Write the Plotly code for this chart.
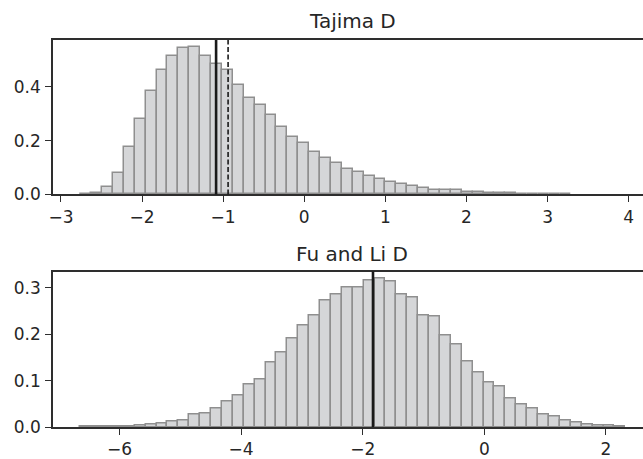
import plotly.graph_objects as go
from plotly.subplots import make_subplots

# ---- data ----
titles = ["Tajima D", "Fu and Li D"]

tajima_bin_start = -2.762
tajima_bin_width = 0.1344
tajima_density = [0.002, 0.005, 0.029, 0.081, 0.176, 0.280, 0.383, 0.464, 0.516, 0.544,
                  0.547, 0.515, 0.486, 0.461, 0.405, 0.357, 0.334, 0.295, 0.249, 0.213,
                  0.192, 0.158, 0.135, 0.116, 0.096, 0.084, 0.068, 0.058, 0.048, 0.038,
                  0.030, 0.023, 0.018, 0.016, 0.015, 0.011, 0.009, 0.007, 0.005, 0.004,
                  0.003, 0.002, 0.0015, 0.001, 0.0005]
tajima_solid = -1.087
tajima_dashed = -0.939

fuli_bin_start = -6.646
fuli_bin_width = 0.1793
fuli_density = [0.0005, 0.001, 0.001, 0.0015, 0.002, 0.003, 0.005, 0.007, 0.0115, 0.015,
                0.026, 0.030, 0.040, 0.055, 0.067, 0.091, 0.102, 0.139, 0.160, 0.190,
                0.220, 0.240, 0.274, 0.286, 0.300, 0.301, 0.317, 0.320, 0.313, 0.285,
                0.279, 0.241, 0.2375, 0.198, 0.1775, 0.142, 0.118, 0.0966, 0.087, 0.062,
                0.0487, 0.039, 0.0272, 0.0223, 0.0144, 0.009, 0.0064, 0.004, 0.0025, 0.0015]
fuli_solid = -1.831

tajima_xticks = [-3, -2, -1, 0, 1, 2, 3, 4]
tajima_yticks = [0.0, 0.2, 0.4]
fuli_xticks = [-6, -4, -2, 0, 2]
fuli_yticks = [0.0, 0.1, 0.2, 0.3]

# ---- styling ----
FILL = "#d5d6d8"
EDGE = "#8f8f8f"
AX = "#2e2e2e"
TXT = "#262626"
FONT = "DejaVu Sans"

fig = make_subplots(rows=2, cols=1)

def centers(start, width, n):
    return [start + (i + 0.5) * width for i in range(n)]

fig.add_trace(go.Bar(x=centers(tajima_bin_start, tajima_bin_width, len(tajima_density)),
                     y=tajima_density, width=tajima_bin_width,
                     marker=dict(color=FILL, line=dict(color=EDGE, width=1.5)),
                     showlegend=False), row=1, col=1)
fig.add_trace(go.Bar(x=centers(fuli_bin_start, fuli_bin_width, len(fuli_density)),
                     y=fuli_density, width=fuli_bin_width,
                     marker=dict(color=FILL, line=dict(color=EDGE, width=1.5)),
                     showlegend=False), row=2, col=1)

# vertical reference lines
fig.add_shape(type="line", xref="x", yref="y domain", x0=tajima_solid, x1=tajima_solid,
              y0=0, y1=1, line=dict(color="#1a1a1a", width=2.6))
fig.add_shape(type="line", xref="x", yref="y domain", x0=tajima_dashed, x1=tajima_dashed,
              y0=0, y1=1, line=dict(color="#1a1a1a", width=1.6, dash="5px,2.5px"))
fig.add_shape(type="line", xref="x2", yref="y2 domain", x0=fuli_solid, x1=fuli_solid,
              y0=0, y1=1, line=dict(color="#1a1a1a", width=2.6))

axis_common = dict(showline=True, linecolor=AX, linewidth=1.5, ticks="outside",
                   ticklen=6, tickwidth=1.3, tickcolor=AX, showgrid=False, zeroline=False,
                   tickfont=dict(family=FONT, size=17, color=TXT))

fig.update_layout(
    width=643, height=459,
    margin=dict(l=53, r=0, t=40, b=29),
    plot_bgcolor="white", paper_bgcolor="white",
    bargap=0, showlegend=False,
    xaxis=dict(domain=[0, 1], range=[-3.098, 4.177], tickvals=tajima_xticks,
               mirror=True, anchor="y", **axis_common),
    yaxis=dict(domain=[0.6008, 1], range=[0, 0.574], tickvals=tajima_yticks,
               tickformat=".1f", anchor="x", ticklabelstandoff=1, **axis_common),
    xaxis2=dict(domain=[0, 1], range=[-7.094, 2.61], tickvals=fuli_xticks,
                mirror=True, anchor="y2", **axis_common),
    yaxis2=dict(domain=[0, 0.4018], range=[0, 0.3356], tickvals=fuli_yticks,
                tickformat=".1f", anchor="x2", ticklabelstandoff=1, **axis_common),
    annotations=[
        dict(text=titles[0], x=0.507, y=1.012, xref="paper", yref="paper",
             xanchor="center", yanchor="bottom", showarrow=False,
             font=dict(family=FONT, size=20, color=TXT)),
        dict(text=titles[1], x=0.507, y=0.412, xref="paper", yref="paper",
             xanchor="center", yanchor="bottom", showarrow=False,
             font=dict(family=FONT, size=20, color=TXT)),
    ],
)

fig.write_html("out.html")
